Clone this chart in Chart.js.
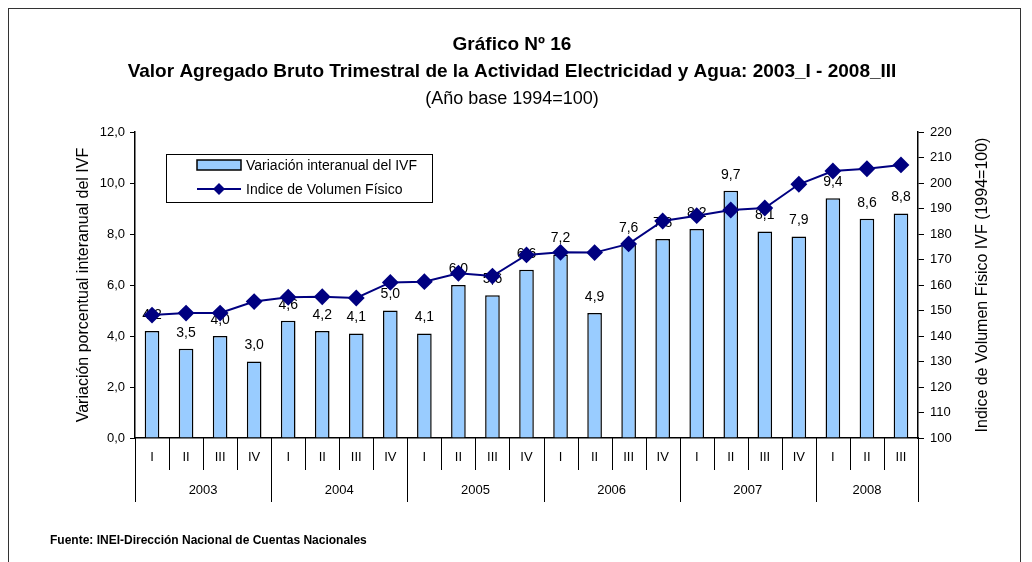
<!DOCTYPE html>
<html>
<head>
<meta charset="utf-8">
<script src="https://cdn.jsdelivr.net/npm/chart.js@4.4.1/dist/chart.umd.min.js"></script>
<style>
  html, body { margin: 0; padding: 0; background: #fff; }
  #wrap { position: relative; width: 1032px; height: 562px; overflow: hidden; }
  #frame { position: absolute; left: 8px; top: 8px; width: 1013px; height: 600px;
           border: 1.5px solid #333; box-sizing: border-box; }
  canvas { position: absolute; left: 0; top: 0; }
</style>
</head>
<body>
<div id="wrap">
  <div id="frame"></div>
  <canvas id="chart" width="1032" height="562"></canvas>
</div>
<script>
// quarters and years
const quarters = ['I','II','III','IV','I','II','III','IV','I','II','III','IV',
                  'I','II','III','IV','I','II','III','IV','I','II','III'];
const years = ['2003','2004','2005','2006','2007','2008'];

// Variación interanual del IVF (%)
const variacion = [4.2, 3.5, 4.0, 3.0, 4.6, 4.2, 4.1, 5.0, 4.1, 6.0, 5.6, 6.6,
                   7.2, 4.9, 7.6, 7.8, 8.2, 9.7, 8.1, 7.9, 9.4, 8.6, 8.8];

// Indice de Volumen Físico (1994=100)
const indice = [148.2, 149.0, 149.0, 153.5, 155.2, 155.4, 154.9, 161.0, 161.3, 164.6, 163.5, 171.8,
                172.8, 172.7, 176.1, 185.1, 187.2, 189.4, 190.2, 199.5, 204.7, 205.6, 207.1];

const FONT = '"Liberation Sans Narrow", "Liberation Sans", Arial, sans-serif';
const NAVY = '#000080';
const BAR = '#99CCFF';

const fmt = v => v.toFixed(1).replace('.', ',');

const extras = {
  id: 'extras',
  // value labels go under the line
  afterDatasetDraw(chart, args) {
    if (args.index !== 0) return;
    const ctx = chart.ctx;
    ctx.save();
    ctx.fillStyle = '#000';
    ctx.textAlign = 'center';
    ctx.textBaseline = 'middle';
    ctx.font = '14px ' + FONT;
    args.meta.data.forEach((bar, i) => {
      ctx.fillText(fmt(variacion[i]), bar.x, bar.y - 16);
    });
    ctx.restore();
  },
  afterDraw(chart) {
    const ctx = chart.ctx;
    const x = chart.scales.x;
    const area = chart.chartArea;
    ctx.save();

    // titles
    ctx.fillStyle = '#000';
    ctx.textAlign = 'center';
    ctx.textBaseline = 'middle';
    ctx.font = 'bold 19px ' + FONT;
    ctx.fillText('Gráfico Nº 16', 512, 45);
    ctx.fillText('Valor Agregado Bruto Trimestral de la Actividad Electricidad y Agua: 2003_I - 2008_III', 512, 72);
    ctx.font = '18px ' + FONT;
    ctx.fillText('(Año base 1994=100)', 512, 99);

    // x axis: quarter ticks, year separators, labels
    const step = (area.right - area.left) / quarters.length;
    ctx.strokeStyle = '#000';
    ctx.lineWidth = 1;
    for (let i = 0; i <= quarters.length; i++) {
      const px = Math.round(area.left + i * step) + 0.5;
      const long = (i % 4 === 0) || i === quarters.length;
      ctx.beginPath();
      ctx.moveTo(px, area.bottom);
      ctx.lineTo(px, area.bottom + (long ? 64 : 32));
      ctx.stroke();
    }
    ctx.font = '13px ' + FONT;
    quarters.forEach((q, i) => {
      ctx.fillText(q, x.getPixelForValue(i), area.bottom + 19);
    });
    years.forEach((yr, k) => {
      const first = k * 4;
      const last = Math.min(first + 3, quarters.length - 1);
      const cx = (x.getPixelForValue(first) + x.getPixelForValue(last)) / 2;
      ctx.fillText(yr, cx, area.bottom + 52);
    });

    // right axis title
    ctx.save();
    ctx.translate(983, (area.top + area.bottom) / 2);
    ctx.rotate(-Math.PI / 2);
    ctx.font = '16px ' + FONT;
    ctx.fillText('Indice de Volumen Físico IVF (1994=100)', 0, 0);
    ctx.restore();

    // legend
    ctx.fillStyle = '#fff';
    ctx.fillRect(166, 154, 267, 49);
    ctx.strokeStyle = '#000';
    ctx.lineWidth = 1;
    ctx.strokeRect(166.5, 154.5, 266, 48);
    ctx.fillStyle = BAR;
    ctx.fillRect(197, 160, 44, 10);
    ctx.lineWidth = 1.5;
    ctx.strokeRect(197, 160, 44, 10);
    ctx.strokeStyle = NAVY;
    ctx.lineWidth = 2;
    ctx.beginPath();
    ctx.moveTo(197, 189);
    ctx.lineTo(241, 189);
    ctx.stroke();
    ctx.fillStyle = NAVY;
    ctx.beginPath();
    ctx.moveTo(219, 183); ctx.lineTo(225, 189); ctx.lineTo(219, 195); ctx.lineTo(213, 189);
    ctx.closePath();
    ctx.fill();
    ctx.fillStyle = '#000';
    ctx.textAlign = 'left';
    ctx.font = '14px ' + FONT;
    ctx.fillText(chart.data.datasets[0].label, 246, 166);
    ctx.fillText(chart.data.datasets[1].label, 246, 190);

    // source
    ctx.font = 'bold 12px ' + FONT;
    ctx.fillText('Fuente: INEI-Dirección Nacional de Cuentas Nacionales', 50, 541);
    ctx.restore();
  }
};

new Chart(document.getElementById('chart'), {
  data: {
    labels: quarters,
    datasets: [
      {
        type: 'bar',
        label: 'Variación interanual del IVF',
        data: variacion,
        yAxisID: 'y',
        backgroundColor: BAR,
        borderColor: '#000',
        borderWidth: 1.5,
        barPercentage: 0.43,
        categoryPercentage: 1,
        order: 1
      },
      {
        type: 'line',
        label: 'Indice de Volumen Físico',
        data: indice,
        yAxisID: 'y1',
        borderColor: NAVY,
        backgroundColor: NAVY,
        borderWidth: 2,
        pointStyle: 'rectRot',
        pointRadius: 7,
        pointHoverRadius: 7,
        tension: 0,
        order: 0
      }
    ]
  },
  options: {
    responsive: false,
    animation: false,
    layout: { padding: { top: 132, left: 70, right: 30, bottom: 124 } },
    plugins: {
      legend: { display: false },
      title: { display: false },
      tooltip: { enabled: false }
    },
    scales: {
      x: {
        offset: true,
        grid: { display: false, drawTicks: false },
        border: { display: true, color: '#000', width: 1.5 },
        ticks: { display: false },
        afterFit: s => { s.height = 0; }
      },
      y: {
        position: 'left',
        min: 0, max: 12,
        ticks: { stepSize: 2, color: '#000', font: { family: FONT, size: 13 }, padding: 5,
                 callback: v => fmt(v) },
        grid: { drawOnChartArea: false, tickLength: 5, color: '#000' },
        border: { display: true, color: '#000', width: 1.5 },
        title: { display: true, text: 'Variación porcentual interanual del IVF', color: '#000',
                 font: { family: FONT, size: 16 }, padding: 4 },
        afterFit: s => { s.width = 65; }
      },
      y1: {
        position: 'right',
        min: 100, max: 220,
        ticks: { stepSize: 10, color: '#000', font: { family: FONT, size: 13 }, padding: 6 },
        grid: { drawOnChartArea: false, tickLength: 6, color: '#000' },
        border: { display: true, color: '#000', width: 1.5 },
        afterFit: s => { s.width = 84; }
      }
    }
  },
  plugins: [extras]
});
</script>
</body>
</html>
